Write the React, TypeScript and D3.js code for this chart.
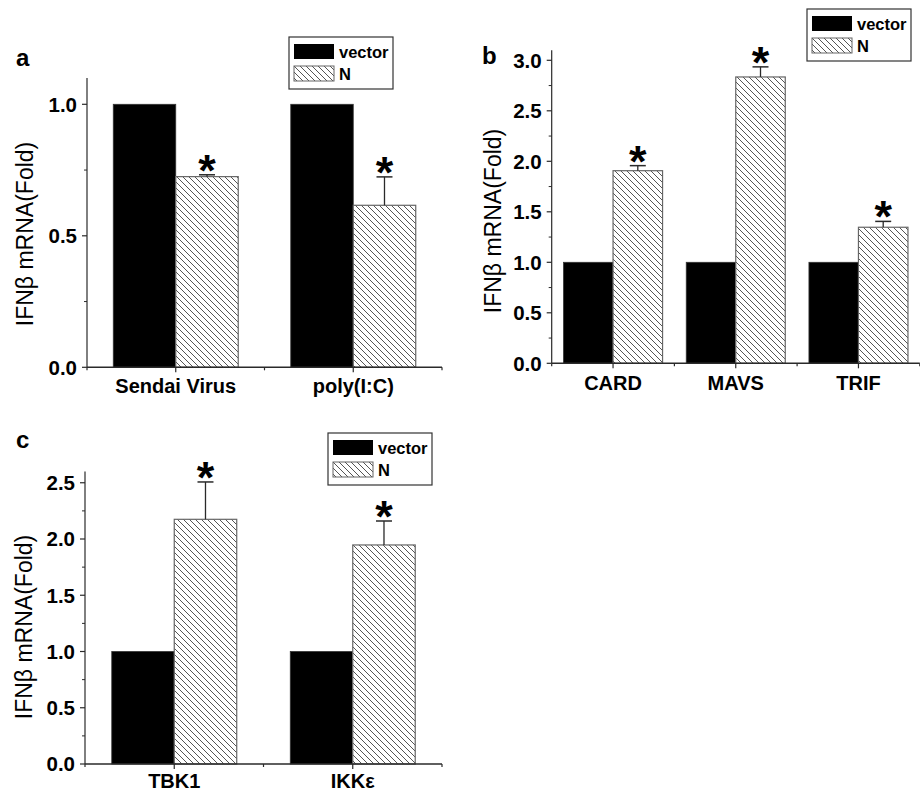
import React from "react";
import * as d3 from "d3";

// ---------- data ----------
const seriesNames = ["vector", "N"];

const catsA = ["Sendai Virus", "poly(I:C)"];
const vectorA = [1, 1];
const nA = [0.725, 0.616];
const errA = [0.007, 0.108];
const ticksA = [0, 0.5, 1.0];

const catsB = ["CARD", "MAVS", "TRIF"];
const vectorB = [1, 1, 1];
const nB = [1.907, 2.835, 1.347];
const errB = [0.05, 0.1, 0.058];
const ticksB = [0, 0.5, 1.0, 1.5, 2.0, 2.5, 3.0];

const catsC = ["TBK1", "IKKε"];
const vectorC = [1, 1];
const nC = [2.175, 1.947];
const errC = [0.332, 0.213];
const ticksC = [0, 0.5, 1.0, 1.5, 2.0, 2.5];

const yLabel = "IFNβ mRNA(Fold)";

// ---------- layout ----------
type PanelDef = {
  letter: string;
  cats: string[];
  vec: number[];
  n: number[];
  err: number[];
  ticks: number[];
  ymax: number;
  left: number;
  right: number;
  y0: number;
  yTop: number;
  group: number;
  xlabDy: number;
  letterPos: [number, number];
  ylabPos: [number, number];
  legendPos: [number, number];
};

const panels: PanelDef[] = [
  {
    letter: "a", cats: catsA, vec: vectorA, n: nA, err: errA, ticks: ticksA,
    ymax: 1.1, left: 87, right: 442, y0: 367.3, yTop: 367.3 - 1.1 * 263,
    group: 0.704, xlabDy: 26, letterPos: [16, 65.5], ylabPos: [25, 234], legendPos: [289, 37],
  },
  {
    letter: "b", cats: catsB, vec: vectorB, n: nB, err: errB, ticks: ticksB,
    ymax: 3.1, left: 551.7, right: 919.8, y0: 363.3, yTop: 363.3 - 3.1 * 101,
    group: 0.807, xlabDy: 27, letterPos: [482, 64], ylabPos: [493, 221], legendPos: [807, 9],
  },
  {
    letter: "c", cats: catsC, vec: vectorC, n: nC, err: errC, ticks: ticksC,
    ymax: 2.6, left: 85, right: 442, y0: 764, yTop: 764 - 2.6 * 112.5,
    group: 0.70, xlabDy: 24, letterPos: [16, 448], ylabPos: [24, 627], legendPos: [328, 433],
  },
];

const FONT = "'Liberation Sans', Arial, Helvetica, sans-serif";
const AXIS = "#2a2a2a";
const HATCH_STROKE = "#555";
const BAR_EDGE = "#666";

function Panel({ p }: { p: PanelDef }) {
  const x = d3.scaleBand<string>().domain(p.cats).range([p.left, p.right]).padding(0);
  const y = d3.scaleLinear().domain([0, p.ymax]).range([p.y0, p.yTop]);
  const bw = x.bandwidth();
  const sub = d3
    .scaleBand<string>()
    .domain(seriesNames)
    .range([0, bw * p.group])
    .padding(0);
  const offset = (bw - bw * p.group) / 2;
  const step = p.ticks[1] - p.ticks[0];
  const minor: number[] = [];
  for (let i = 0; i < p.ticks.length; i++) {
    const v = p.ticks[i] + step / 2;
    if (v <= p.ymax) minor.push(v);
  }
  const boundaries = p.cats.map((c) => x(c) as number).concat([p.right]);

  return (
    <g>
      <text x={p.letterPos[0]} y={p.letterPos[1]} fontFamily={FONT} fontWeight="bold" fontSize={24}>
        {p.letter}
      </text>
      <text
        transform={`translate(${p.ylabPos[0]},${p.ylabPos[1]}) rotate(-90)`}
        textAnchor="middle"
        dy="0.36em"
        fontFamily={FONT}
        fontSize={23}
      >
        {yLabel}
      </text>

      {/* bars */}
      {p.cats.map((c, i) => {
        const bx = (x(c) as number) + offset;
        const vx = bx + (sub("vector") as number);
        const nx = bx + (sub("N") as number);
        const w = sub.bandwidth();
        const nTop = y(p.n[i]);
        const eTop = y(p.n[i] + p.err[i]);
        const cx = nx + w / 2;
        return (
          <g key={c}>
            <rect x={vx} y={y(p.vec[i])} width={w} height={p.y0 - y(p.vec[i])} fill="#000" stroke="#333" strokeWidth={0.8} />
            <rect x={nx} y={nTop} width={w} height={p.y0 - nTop} fill="url(#hatch)" stroke={BAR_EDGE} strokeWidth={1.2} />
            <line x1={cx} x2={cx} y1={nTop} y2={eTop} stroke={AXIS} strokeWidth={1.3} />
            <line x1={cx - 8} x2={cx + 8} y1={eTop} y2={eTop} stroke={AXIS} strokeWidth={1.5} />
            <text x={cx} y={eTop - 6} textAnchor="middle" fontFamily={FONT} fontWeight="bold" fontSize={45} dy="0.38em">
              *
            </text>
          </g>
        );
      })}

      {/* y axis */}
      <line x1={p.left} x2={p.left} y1={p.y0} y2={p.yTop} stroke={AXIS} strokeWidth={1.2} />
      {p.ticks.map((t) => (
        <g key={"t" + t}>
          <line x1={p.left - 5} x2={p.left} y1={y(t)} y2={y(t)} stroke={AXIS} strokeWidth={1.2} />
          <text
            x={p.left - 10}
            y={y(t)}
            dy="0.36em"
            textAnchor="end"
            fontFamily={FONT}
            fontWeight="bold"
            fontSize={20.5}
          >
            {d3.format(".1f")(t)}
          </text>
        </g>
      ))}
      {minor.map((t) => (
        <line key={"m" + t} x1={p.left - 3} x2={p.left} y1={y(t)} y2={y(t)} stroke={AXIS} strokeWidth={1} />
      ))}

      {/* x axis */}
      <line x1={p.left} x2={p.right} y1={p.y0} y2={p.y0} stroke={AXIS} strokeWidth={1.5} />
      {boundaries.map((b, i) => (
        <line key={"b" + i} x1={b} x2={b} y1={p.y0} y2={p.y0 + 3} stroke={AXIS} strokeWidth={1.2} />
      ))}
      {p.cats.map((c) => {
        const cx = (x(c) as number) + bw / 2;
        return (
          <g key={"x" + c}>
            <line x1={cx} x2={cx} y1={p.y0} y2={p.y0 + 5} stroke={AXIS} strokeWidth={1.2} />
            <text x={cx} y={p.y0 + p.xlabDy} textAnchor="middle" fontFamily={FONT} fontWeight="bold" fontSize={20}>
              {c}
            </text>
          </g>
        );
      })}

      {/* legend */}
      <g transform={`translate(${p.legendPos[0]},${p.legendPos[1]})`}>
        <rect x={0} y={0} width={104} height={52} fill="#fff" stroke="#333" strokeWidth={1.2} />
        <rect x={5} y={7} width={40} height={15} fill="#000" />
        <rect x={5} y={29} width={40} height={15} fill="url(#hatch)" stroke={BAR_EDGE} strokeWidth={1} />
        <text x={50} y={20.5} fontFamily={FONT} fontWeight="bold" fontSize={16.5}>
          {seriesNames[0]}
        </text>
        <text x={50} y={42.5} fontFamily={FONT} fontWeight="bold" fontSize={16.5}>
          {seriesNames[1]}
        </text>
      </g>
    </g>
  );
}

export default function App() {
  return (
    <svg width={920} height={792} style={{ position: "absolute", left: 0, top: 0, background: "#fff" }}>
      <defs>
        <pattern id="hatch" patternUnits="userSpaceOnUse" width={6} height={6}>
          <rect width={6} height={6} fill="#fff" />
          <path d="M-1,-1 L7,7 M-1,5 L1,7 M5,-1 L7,1" stroke={HATCH_STROKE} strokeWidth={1} />
        </pattern>
      </defs>
      <rect width={920} height={792} fill="#fff" />
      {panels.map((p) => (
        <Panel key={p.letter} p={p} />
      ))}
    </svg>
  );
}
